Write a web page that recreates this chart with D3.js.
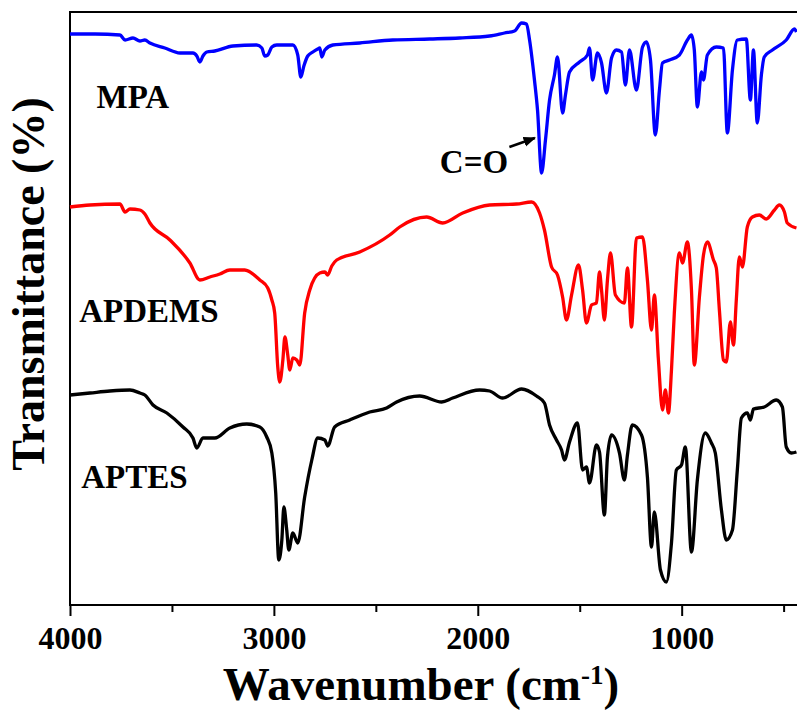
<!DOCTYPE html>
<html>
<head>
<meta charset="utf-8">
<script src="https://cdn.jsdelivr.net/npm/d3@7"></script>
<style>
  body { margin: 0; background: #fff; }
  svg { display: block; }
  text { font-family: "Liberation Serif", "Times New Roman", serif; font-weight: bold; }
</style>
</head>
<body>
<div id="chart"></div>
<script>
// FTIR spectra. y is transmittance with each curve offset (a.u.)
var mpaWave = [4000, 3877, 3755, 3730, 3691, 3657, 3633, 3608, 3535, 3461, 3397, 3378, 3363, 3348, 3329, 3290, 3201, 3084, 3059, 3045, 3030, 3010, 2986, 2907, 2883, 2868, 2853, 2834, 2809, 2785, 2775, 2765, 2750, 2711, 2579, 2417, 2236, 2089, 1942, 1869, 1820, 1785, 1761, 1746, 1722, 1707, 1687, 1668, 1648, 1624, 1609, 1584, 1570, 1550, 1501, 1462, 1452, 1437, 1413, 1393, 1369, 1344, 1320, 1295, 1276, 1256, 1222, 1192, 1173, 1153, 1129, 1109, 1094, 1060, 1011, 972, 952, 938, 923, 903, 893, 874, 830, 795, 776, 751, 727, 683, 663, 648, 629, 609, 595, 555, 487, 447, 437];
var mpaT = [571, 571, 570, 565, 567, 564, 565, 562, 557, 552, 552, 549, 543, 549, 553, 554, 559, 560, 557, 549, 550, 558, 560, 560, 550, 528, 539, 549, 553, 556, 557, 548, 555, 560, 562, 565, 566, 567, 569, 572, 574, 582, 581, 565, 525, 495, 432, 465, 505, 530, 548, 492, 510, 533, 543, 550, 557, 525, 552, 542, 512, 547, 555, 553, 520, 555, 515, 558, 563, 545, 470, 515, 542, 545, 550, 565, 570, 555, 498, 533, 525, 550, 558, 557, 472, 535, 565, 566, 505, 555, 482, 530, 548, 555, 565, 576, 573];

var apdemsWave = [4000, 3902, 3755, 3730, 3706, 3657, 3633, 3608, 3510, 3412, 3363, 3314, 3265, 3216, 3143, 3069, 3030, 3010, 2996, 2981, 2971, 2956, 2946, 2932, 2922, 2907, 2888, 2873, 2849, 2824, 2775, 2750, 2736, 2716, 2692, 2579, 2432, 2383, 2251, 2172, 2074, 1942, 1810, 1736, 1697, 1673, 1638, 1609, 1584, 1565, 1540, 1506, 1486, 1467, 1442, 1418, 1403, 1393, 1379, 1364, 1349, 1325, 1281, 1266, 1246, 1222, 1192, 1168, 1148, 1134, 1114, 1094, 1080, 1065, 1050, 1036, 1011, 996, 972, 952, 938, 913, 893, 874, 844, 830, 815, 795, 781, 761, 746, 732, 717, 702, 678, 653, 619, 585, 545, 521, 496, 482, 437];
var apdemsT = [398, 400, 401, 393, 396, 395, 391, 382, 365, 342, 325, 328, 331, 335, 335, 325, 317, 305, 292, 238, 223, 245, 268, 250, 235, 247, 245, 240, 292, 315, 332, 333, 330, 339, 345, 353, 370, 378, 388, 382, 392, 400, 401, 403, 392, 375, 338, 330, 308, 285, 310, 340, 315, 282, 300, 302, 333, 315, 285, 325, 352, 310, 302, 337, 278, 367, 368, 325, 275, 310, 245, 195, 215, 192, 235, 292, 352, 342, 363, 315, 240, 308, 350, 363, 345, 337, 295, 245, 243, 283, 260, 305, 348, 338, 378, 388, 390, 386, 395, 400, 393, 382, 377];

var aptesWave = [4000, 3902, 3804, 3706, 3657, 3633, 3593, 3525, 3446, 3397, 3378, 3348, 3290, 3216, 3133, 3069, 3035, 3010, 2991, 2976, 2961, 2951, 2937, 2927, 2907, 2883, 2849, 2814, 2785, 2750, 2736, 2702, 2628, 2530, 2447, 2398, 2285, 2177, 2123, 1991, 1942, 1878, 1785, 1712, 1673, 1648, 1614, 1589, 1575, 1550, 1511, 1486, 1467, 1452, 1418, 1403, 1379, 1364, 1344, 1305, 1281, 1266, 1242, 1197, 1168, 1148, 1134, 1104, 1075, 1050, 1026, 1001, 982, 952, 923, 884, 854, 835, 805, 781, 751, 727, 707, 678, 663, 648, 595, 536, 506, 487, 462, 437];
var aptesT = [210, 212, 214, 215, 212, 210, 200, 192, 178, 167, 157, 167, 167, 177, 181, 178, 168, 152, 112, 45, 65, 98, 75, 55, 72, 62, 108, 145, 167, 165, 159, 178, 185, 193, 197, 203, 209, 203, 207, 215, 214, 207, 216, 209, 202, 180, 165, 155, 145, 163, 182, 135, 138, 122, 160, 153, 90, 148, 170, 152, 125, 150, 180, 170, 128, 58, 93, 35, 23, 62, 135, 140, 158, 53, 125, 172, 162, 152, 95, 65, 75, 135, 187, 192, 185, 196, 198, 205, 198, 158, 152, 153];

var xTicks = [4000, 3000, 2000, 1000];
var xMinorTicks = [3500, 2500, 1500, 500];

// Set dimensions
var WIDTH = 797,
	HEIGHT = 713,
	PLOT = {left: 70, right: 804, top: 12, bottom: 605};

var xScale = d3.scaleLinear().domain([4000, 400]).range([PLOT.left, PLOT.right]);
var yScale = d3.scaleLinear().domain([0, 593]).range([PLOT.bottom, PLOT.top]);

var lineGen = d3.line()
	.x(function(d) {return xScale(d.w);})
	.y(function(d) {return yScale(d.t);})
	.curve(d3.curveMonotoneX);

function pairs(w, t) {
	return w.map(function(v, i) {return {w: v, t: t[i]};});
}

var svg = d3.select("#chart").append("svg")
	.attr("width", WIDTH)
	.attr("height", HEIGHT);

// frame
svg.append("rect")
	.attr("x", PLOT.left)
	.attr("y", PLOT.top)
	.attr("width", PLOT.right - PLOT.left)
	.attr("height", PLOT.bottom - PLOT.top)
	.attr("fill", "none")
	.attr("stroke", "#000")
	.attr("stroke-width", 2);

// curves
var series = [
	{w: aptesWave, t: aptesT, color: "#000000"},
	{w: apdemsWave, t: apdemsT, color: "#ff0000"},
	{w: mpaWave, t: mpaT, color: "#0000ff"}
];
series.forEach(function(s) {
	svg.append("path")
		.datum(pairs(s.w, s.t))
		.attr("d", lineGen)
		.attr("fill", "none")
		.attr("stroke", s.color)
		.attr("stroke-width", 3.3)
		.attr("stroke-linejoin", "round");
});

// x axis
var xAxis = svg.append("g")
	.attr("transform", "translate(0," + PLOT.bottom + ")")
	.call(d3.axisBottom(xScale).tickValues(xTicks).tickSize(11).tickPadding(10).tickFormat(d3.format("d")));
xAxis.select(".domain").remove();
xAxis.selectAll(".tick line").attr("stroke-width", 2);
xAxis.selectAll("text").style("font-size", "32px").attr("fill", "#000")
	.style("font-family", "'Liberation Serif', serif").style("font-weight", "bold");

var xMinor = svg.append("g")
	.attr("transform", "translate(0," + PLOT.bottom + ")")
	.call(d3.axisBottom(xScale).tickValues(xMinorTicks).tickSize(7).tickFormat(""));
xMinor.select(".domain").remove();
xMinor.selectAll(".tick line").attr("stroke-width", 2);

// axis titles
var xt = svg.append("text")
	.attr("x", 421)
	.attr("y", 700)
	.attr("text-anchor", "middle")
	.style("font-size", "47px");
xt.append("tspan").text("Wavenumber (cm");
xt.append("tspan").attr("dy", -16).style("font-size", "27px").text("-1");
xt.append("tspan").attr("dy", 16).text(")");

svg.append("text")
	.attr("transform", "translate(44,284) rotate(-90)")
	.attr("text-anchor", "middle")
	.style("font-size", "46px")
	.text("Transmittance (%)");

// curve labels
var labels = [
	{text: "MPA", w: 3870, t: 497},
	{text: "APDEMS", w: 3955, t: 283},
	{text: "APTES", w: 3945, t: 117},
	{text: "C=O", w: 2186, t: 432}
];
svg.selectAll(".lbl")
	.data(labels)
	.enter().append("text")
	.attr("class", "lbl")
	.attr("x", function(d) {return xScale(d.w);})
	.attr("y", function(d) {return yScale(d.t);})
	.style("font-size", "33px")
	.text(function(d) {return d.text;});

// arrow pointing at the C=O band
svg.append("defs").append("marker")
	.attr("id", "head")
	.attr("viewBox", "0 0 10 10")
	.attr("refX", 9).attr("refY", 5)
	.attr("markerWidth", 5).attr("markerHeight", 5)
	.attr("orient", "auto")
	.append("path").attr("d", "M0,1 L10,5 L0,9 z").attr("fill", "#000");

svg.append("line")
	.attr("x1", xScale(1845)).attr("y1", yScale(458))
	.attr("x2", xScale(1720)).attr("y2", yScale(467))
	.attr("stroke", "#000")
	.attr("stroke-width", 2.5)
	.attr("marker-end", "url(#head)");
</script>
</body>
</html>
